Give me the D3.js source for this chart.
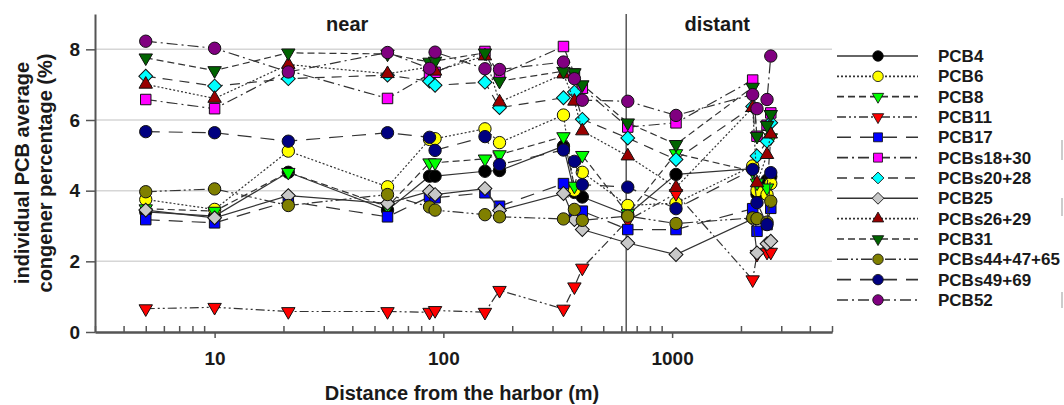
<!DOCTYPE html>
<html>
<head>
<meta charset="utf-8">
<script src="https://cdn.jsdelivr.net/npm/d3@7"></script>
<style>
  body { margin: 0; background: #fff; }
  text { font-family: "Liberation Sans", Arial, sans-serif; font-weight: bold; fill: #1a1a1a; }
</style>
</head>
<body>
<svg id="chart" width="1064" height="405"></svg>
<script>
// sampling distances (m)
const distances = [5, 10, 21, 57, 87, 92, 152, 176, 335, 374, 405, 640, 1040, 2250, 2350, 2600, 2700];

const names = ["PCB4", "PCB6", "PCB8", "PCB11", "PCB17", "PCBs18+30", "PCBs20+28", "PCB25",
  "PCBs26+29", "PCB31", "PCBs44+47+65", "PCBs49+69", "PCB52"];

// average congener percentage (%)
const pcb4   = [3.40, 3.28, 4.52, 3.45, 4.41, 4.41, 4.55, 4.57, 5.26, 3.95, 3.82, 3.32, 4.46, 4.62, 3.90, 4.30, 4.40];
const pcb6   = [3.75, 3.47, 5.12, 4.11, 5.45, 5.47, 5.75, 5.36, 6.14, 4.01, 4.52, 3.58, 3.65, 4.70, 4.00, 3.89, 4.20];
const pcb8   = [3.49, 3.42, 4.52, 3.55, 4.79, 4.79, 4.90, 5.02, 5.53, 4.13, 5.00, 3.35, 5.05, 4.55, 4.22, 4.08, 5.50];
const pcb11  = [0.66, 0.70, 0.58, 0.58, 0.56, 0.61, 0.56, 1.18, 0.65, 1.28, 1.81, 3.16, 3.92, 1.48, 2.20, 2.26, 2.26];
const pcb17  = [3.18, 3.09, 3.70, 3.26, 3.83, 3.80, 3.94, 3.56, 4.20, 3.30, 3.42, 2.90, 2.90, 3.49, 2.85, 3.04, 3.50];
const pcb18  = [6.58, 6.32, 7.40, 6.61, 7.30, 7.35, 7.94, 7.28, 8.08, 7.30, 6.90, 5.80, 5.92, 7.13, 5.54, 5.85, 6.20];
const pcb20  = [7.24, 6.96, 7.17, 7.27, 7.10, 6.98, 7.07, 6.35, 6.63, 6.79, 6.02, 5.49, 4.88, 6.38, 4.98, 5.40, 5.92];
const pcb25  = [3.45, 3.23, 3.86, 3.64, 3.98, 3.89, 4.06, 3.44, 3.92, 3.18, 2.90, 2.52, 2.19, 3.20, 2.24, 2.50, 2.57];
const pcb26  = [7.01, 6.61, 7.57, 7.31, 7.50, 7.38, 7.81, 6.51, 7.30, 6.53, 5.69, 4.98, 4.09, 6.35, 4.22, 5.02, 5.60];
const pcb31  = [7.76, 7.40, 7.90, 7.87, 7.64, 7.67, 7.90, 7.10, 7.38, 7.34, 7.00, 5.92, 5.31, 6.93, 5.54, 5.85, 6.16];
const pcb44  = [3.97, 4.05, 3.58, 3.89, 3.54, 3.45, 3.32, 3.26, 3.20, 3.47, 3.16, 3.28, 3.07, 3.23, 3.21, 3.11, 3.70];
const pcb49  = [5.67, 5.64, 5.40, 5.64, 5.51, 5.14, 5.53, 4.74, 5.15, 4.83, 4.17, 4.10, 3.49, 4.60, 3.66, 3.04, 4.51];
const pcb52  = [8.23, 8.03, 7.36, 7.91, 7.46, 7.92, 7.45, 7.43, 7.64, 7.17, 6.56, 6.53, 6.13, 6.72, 6.32, 6.58, 7.81];

const values = [pcb4, pcb6, pcb8, pcb11, pcb17, pcb18, pcb20, pcb25, pcb26, pcb31, pcb44, pcb49, pcb52];

const yTicks = [0, 2, 4, 6, 8];
const xTicks = [10, 100, 1000];
const boundary = 630;   // near / distant split
const regionLabels = ["near", "distant"];
const regionCenters = [38, 1575];

// styles
const fills = ["#000000", "#ffff00", "#00ff00", "#ff0000", "#0000ff", "#ff00ff", "#00ffff", "#c8c8c8",
  "#990000", "#006400", "#808000", "#000080", "#800080"];
const shapes = ["circle", "circle", "down", "down", "square", "square", "diamond", "diamond",
  "up", "down", "circle", "circle", "circle"];
const dashes = [null, "2,2", "7,4", "9,3,2,3,2,3", "14,9", "11,4,2,4", "10,7", null,
  "2,2", "7,4", "11,3,2,3,2,3", "14,9", "11,4,2,4"];

const svg = d3.select("#chart");
const x = d3.scaleLog().domain([3, 5000]).range([95, 832]);
const y = d3.scaleLinear().domain([0, 9]).range([332, 14]);

// grid
svg.append("g").selectAll("line")
  .data(yTicks.filter(d => d > 0)).join("line")
    .attr("x1", x.range()[0]).attr("x2", x.range()[1])
    .attr("y1", d => y(d)).attr("y2", d => y(d))
    .attr("stroke", "#d6d6d6").attr("stroke-width", 1.5);

// boundary line
svg.append("line")
  .attr("x1", x(boundary)).attr("x2", x(boundary))
  .attr("y1", y(9)).attr("y2", y(0))
  .attr("stroke", "#555").attr("stroke-width", 1.5);

// axes
const axisStyle = g => {
  g.select(".domain").attr("stroke", "#555").attr("stroke-width", 2);
  g.selectAll(".tick line").attr("stroke", "#555").attr("stroke-width", 1.5);
  g.selectAll("text").attr("font-size", 19).attr("fill", "#1a1a1a")
    .attr("font-family", "Liberation Sans, Arial, sans-serif").attr("font-weight", "bold");
};

svg.append("g").attr("transform", "translate(95,0)")
  .call(d3.axisLeft(y).tickValues(yTicks).tickSize(9).tickSizeOuter(0).tickPadding(6))
  .call(axisStyle);

const minor = [1, 10, 100, 1000].flatMap(p => d3.range(2, 10).map(k => k * p))
  .filter(v => v >= 3 && v <= 5000 && !xTicks.includes(v));

svg.append("g").attr("transform", "translate(0,332)")
  .call(d3.axisBottom(x).tickValues(minor).tickSize(-6).tickSizeOuter(0).tickFormat(""))
  .call(axisStyle);

svg.append("g").attr("transform", "translate(0,332)")
  .call(d3.axisBottom(x).tickValues(xTicks).tickFormat(d3.format("d")).tickSize(6).tickSizeOuter(0).tickPadding(14))
  .call(axisStyle);

// titles
svg.append("text").attr("x", 462).attr("y", 400).attr("text-anchor", "middle")
  .attr("font-size", 20).text("Distance from the harbor (m)");

const yt = svg.append("text").attr("transform", "translate(22,173) rotate(-90)")
  .attr("text-anchor", "middle").attr("font-size", 20);
yt.append("tspan").attr("x", 0).attr("dy", "0.35em").text("individual PCB average");
yt.append("tspan").attr("x", 0).attr("dy", 23).text("congener percentage (%)");

svg.selectAll(".region").data(regionLabels).join("text")
  .attr("x", (d, i) => x(regionCenters[i])).attr("y", 31)
  .attr("text-anchor", "middle").attr("font-size", 20).text(d => d);

// markers
const symbolPath = shape => {
  if (shape === "circle") return d3.symbol(d3.symbolCircle, 120)();
  if (shape === "square") return d3.symbol(d3.symbolSquare, 110)();
  if (shape === "diamond") return d3.symbol(d3.symbolSquare, 96)();
  return d3.symbol(d3.symbolTriangle, 78)();
};
const symbolRotate = shape => shape === "diamond" ? 45 : (shape === "down" ? 180 : 0);

const line = d3.line().x(d => x(d[0])).y(d => y(d[1]));

values.forEach((vals, s) => {
  const pts = vals.map((v, i) => [distances[i], v]);
  const g = svg.append("g");
  g.append("path").datum(pts)
    .attr("d", line).attr("fill", "none")
    .attr("stroke", "#333").attr("stroke-width", 1.2)
    .attr("stroke-dasharray", dashes[s]);
  g.selectAll("path.m").data(pts).join("path").attr("class", "m")
    .attr("d", symbolPath(shapes[s]))
    .attr("transform", d => `translate(${x(d[0])},${y(d[1])}) rotate(${symbolRotate(shapes[s])})`)
    .attr("fill", fills[s]).attr("stroke", "#111").attr("stroke-width", 1);
});

// legend
const legend = svg.append("g").attr("transform", "translate(837,56)");
const rows = legend.selectAll("g").data(names).join("g")
  .attr("transform", (d, i) => `translate(0,${i * 20.33})`);
rows.append("rect").attr("x", -2).attr("y", -10).attr("width", 82).attr("height", 20).attr("fill", "#fff");
rows.append("line").attr("x1", 0).attr("x2", 81)
  .attr("stroke", "#333").attr("stroke-width", 1.6)
  .attr("stroke-dasharray", (d, i) => dashes[i]);
rows.append("path")
  .attr("d", (d, i) => symbolPath(shapes[i]))
  .attr("transform", (d, i) => `translate(41,0) rotate(${symbolRotate(shapes[i])}) scale(0.85)`)
  .attr("fill", (d, i) => fills[i]).attr("stroke", "#111").attr("stroke-width", 1);
rows.append("text").attr("x", 101).attr("dy", "0.36em").attr("font-size", 17).text(d => d);

// bits of the neighbouring panel at the right edge
[[140, 160], [198, 216], [292, 308]].forEach(([a, b]) => {
  svg.append("line").attr("x1", 1062).attr("x2", 1062).attr("y1", a).attr("y2", b)
    .attr("stroke", "#bbb").attr("stroke-width", 1.5);
});
</script>
</body>
</html>
